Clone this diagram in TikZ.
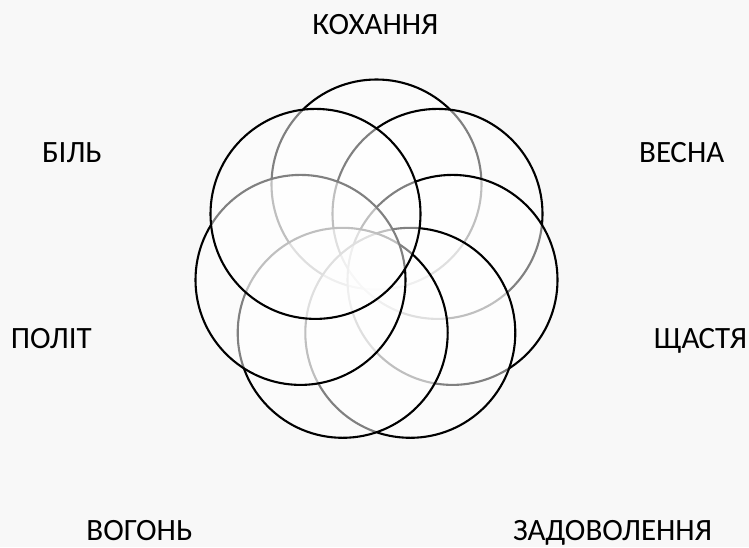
\documentclass[tikz,border=0pt]{standalone}
\usepackage{fontspec}
\setmainfont{Carlito}
\definecolor{bg}{RGB}{248,248,248}
\begin{document}
\begin{tikzpicture}[x=1pt,y=-1pt,
  ring/.style={circle, draw=black, line width=2.1pt, fill=white, fill opacity=0.5, draw opacity=1, minimum size=210pt, inner sep=0pt},
  lbl/.style={anchor=base, font=\fontsize{31}{36}\selectfont, text=black, inner sep=0pt}]
\fill[bg] (0,0) rectangle (749,547);
\useasboundingbox (0,0) rectangle (749,547);
\node[ring] (c1) at (376.5,184.5) {};
\node[ring] (c2) at (437.5,213.9) {};
\node[ring] (c3) at (452.5,279.9) {};
\node[ring] (c4) at (410.3,332.8) {};
\node[ring] (c5) at (342.7,332.8) {};
\node[ring] (c6) at (300.5,279.9) {};
\node[ring] (c7) at (315.5,213.9) {};
\node[lbl] (t1) at (375.4,34.3) {КОХАННЯ};
\node[lbl] (t2) at (681.7,162.7) {ВЕСНА};
\node[lbl] (t3) at (700.5,348.3) {ЩАСТЯ};
\node[lbl] (t4) at (612.5,540.5) {ЗАДОВОЛЕННЯ};
\node[lbl] (t5) at (139.5,540.5) {ВОГОНЬ};
\node[lbl] (t6) at (51.3,348.3) {ПОЛІТ};
\node[lbl] (t7) at (72,162.7) {БІЛЬ};
\end{tikzpicture}
\end{document}
